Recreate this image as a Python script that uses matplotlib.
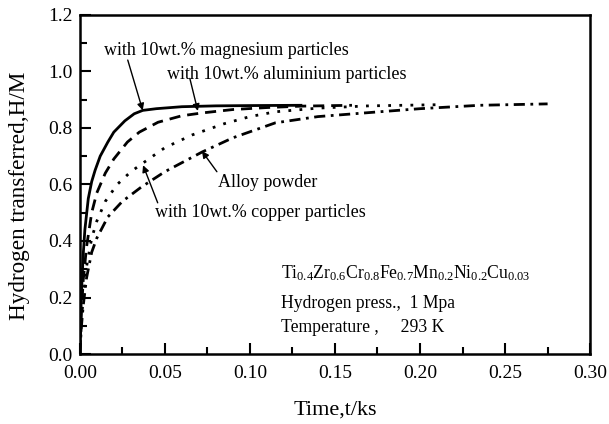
import matplotlib
matplotlib.use("Agg")
import matplotlib.pyplot as plt
from matplotlib.ticker import MultipleLocator, FormatStrFormatter

plt.rcParams['font.family'] = ['Liberation Serif', 'DejaVu Serif']
plt.rcParams['mathtext.fontset'] = 'custom'
plt.rcParams['mathtext.rm'] = 'Liberation Serif'
plt.rcParams['mathtext.it'] = 'Liberation Serif:italic'

# Data
mg_t = [0, 0.0005, 0.001, 0.002, 0.003, 0.005, 0.007, 0.009, 0.012, 0.0165, 0.02, 0.0265, 0.032, 0.037, 0.045, 0.06, 0.08, 0.1, 0.13]
mg_v = [0, 0.12, 0.22, 0.35, 0.44, 0.55, 0.61, 0.65, 0.70, 0.75, 0.785, 0.825, 0.85, 0.862, 0.868, 0.875, 0.878, 0.879, 0.88]

al_t = [0, 0.001, 0.002, 0.004, 0.007, 0.010, 0.015, 0.02, 0.028, 0.035, 0.046, 0.06, 0.072, 0.09, 0.11, 0.13, 0.16]
al_v = [0, 0.15, 0.26, 0.38, 0.50, 0.57, 0.64, 0.69, 0.75, 0.785, 0.82, 0.843, 0.853, 0.865, 0.872, 0.877, 0.88]

cu_t = [0, 0.001, 0.002, 0.004, 0.007, 0.01, 0.015, 0.022, 0.03, 0.037, 0.05, 0.066, 0.085, 0.1, 0.115, 0.14, 0.17, 0.21]
cu_v = [0, 0.12, 0.2, 0.31, 0.41, 0.47, 0.54, 0.60, 0.645, 0.675, 0.73, 0.775, 0.815, 0.84, 0.857, 0.87, 0.878, 0.882]

alloy_t = [0, 0.001, 0.002, 0.004, 0.007, 0.01, 0.0165, 0.025, 0.036, 0.05, 0.072, 0.09, 0.115, 0.14, 0.176, 0.2, 0.235, 0.275]
alloy_v = [0, 0.1, 0.17, 0.27, 0.36, 0.41, 0.485, 0.54, 0.59, 0.645, 0.715, 0.765, 0.818, 0.84, 0.857, 0.868, 0.88, 0.885]

labels = ["with 10wt.% magnesium particles", "with 10wt.% aluminium particles",
          "Alloy powder", "with 10wt.% copper particles"]

fig = plt.figure(figsize=(6.09, 4.24), dpi=100)
ax = fig.add_axes([0.131, 0.165, 0.838, 0.800])

ax.plot(mg_t, mg_v, color='black', lw=2.0, ls='-')
ax.plot(al_t, al_v, color='black', lw=2.0, ls=(0, (4, 2.5)))
ax.plot(cu_t, cu_v, color='black', lw=2.0, ls=(0, (1, 3)))
ax.plot(alloy_t, alloy_v, color='black', lw=2.0, ls=(0, (4, 2, 1, 2)))

ax.set_xlim(0, 0.30)
ax.set_ylim(0, 1.2)
ax.xaxis.set_major_locator(MultipleLocator(0.05))
ax.xaxis.set_minor_locator(MultipleLocator(0.025))
ax.yaxis.set_major_locator(MultipleLocator(0.2))
ax.yaxis.set_minor_locator(MultipleLocator(0.1))
ax.xaxis.set_major_formatter(FormatStrFormatter('%.2f'))
ax.yaxis.set_major_formatter(FormatStrFormatter('%.1f'))
ax.tick_params(which='both', direction='in', top=False, right=False, width=1.5, labelsize=14)
ax.tick_params(which='major', length=8)
ax.tick_params(which='minor', length=5)
ax.tick_params(axis='x', pad=8)
ax.tick_params(axis='y', pad=5)
for s in ax.spines.values():
    s.set_linewidth(1.8)

ax.set_xlabel("Time,t/ks", fontsize=16, labelpad=13)
ax.set_ylabel("Hydrogen transferred,H/M", fontsize=16.7)
ax.yaxis.set_label_coords(-0.098, 0.466)

ap = dict(arrowstyle='-|>', color='black', lw=1.0, mutation_scale=10,
          shrinkA=0, shrinkB=0)
fs = 13
# text labels
ax.text(0.0145, 1.075, labels[0], fontsize=fs, ha='left', va='center')
ax.text(0.0515, 0.99, labels[1], fontsize=fs, ha='left', va='center')
ax.text(0.081, 0.608, labels[2], fontsize=fs, ha='left', va='center')
ax.text(0.044, 0.50, labels[3], fontsize=fs, ha='left', va='center')
# arrows
ax.annotate('', xy=(0.037, 0.862), xytext=(0.0282, 1.04), arrowprops=ap)
ax.annotate('', xy=(0.0694, 0.86), xytext=(0.0647, 0.975), arrowprops=ap)
ax.annotate('', xy=(0.0718, 0.718), xytext=(0.0806, 0.645), arrowprops=ap)
ax.annotate('', xy=(0.0372, 0.668), xytext=(0.0458, 0.535), arrowprops=ap)

ax.text(0.1185, 0.285,
        r"Ti$_{0.4}$Zr$_{0.6}$Cr$_{0.8}$Fe$_{0.7}$Mn$_{0.2}$Ni$_{0.2}$Cu$_{0.03}$",
        fontsize=12.7, ha='left', va='center')
ax.text(0.1185, 0.18, "Hydrogen press.,  1 Mpa", fontsize=12.7, ha='left', va='center')
ax.text(0.1185, 0.095, "Temperature ,     293 K", fontsize=12.7, ha='left', va='center')

fig.savefig("out.png", dpi=100)
